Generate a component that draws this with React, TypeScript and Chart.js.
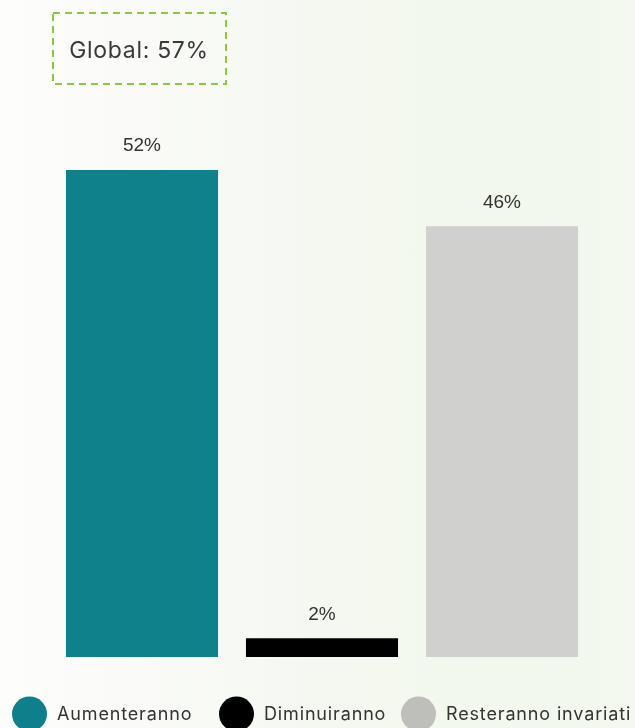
import React, { useEffect, useRef } from "react";
import { Chart, registerables } from "chart.js";

Chart.register(...registerables);

const categories = ["Aumenteranno", "Diminuiranno", "Resteranno invariati"];
const values = [52, 2, 46];
const barColors = ["#0E818B", "#000000", "#D0D0CF"];
const legendColors = ["#0E808B", "#000000", "#BEBEBA"];
const globalLabel = "Global: 57%";

const legendSlots = [12, 219, 401];

const decorPlugin = {
  id: "decor",
  afterDatasetsDraw(chart: any) {
    const ctx = chart.ctx as CanvasRenderingContext2D & { letterSpacing?: string };
    const meta = chart.getDatasetMeta(0);
    ctx.save();
    // value labels
    ctx.fillStyle = "#333333";
    ctx.font = "19px 'Liberation Sans', Arial, sans-serif";
    ctx.textAlign = "center";
    ctx.textBaseline = "alphabetic";
    meta.data.forEach((bar: any, i: number) => {
      ctx.fillText(values[i] + "%", bar.x, bar.y - 18.5);
    });

    // global dashed box
    ctx.strokeStyle = "#8DC63F";
    ctx.lineWidth = 2;
    ctx.setLineDash([7, 5]);
    ctx.strokeRect(53, 13, 173, 71);
    ctx.setLineDash([]);
    ctx.fillStyle = "#3a3a3a";
    ctx.font = "23px Inter, sans-serif";
    ctx.letterSpacing = "0.7px";
    ctx.textAlign = "left";
    ctx.textBaseline = "alphabetic";
    const gw = ctx.measureText(globalLabel).width;
    ctx.fillText(globalLabel, 139 - gw / 2, 57.5);

    // legend
    ctx.font = "18px Inter, sans-serif";
    ctx.letterSpacing = "0.85px";
    ctx.textAlign = "left";
    ctx.textBaseline = "alphabetic";
    const cy = 714;
    const r = 17.5;
    categories.forEach((label, i) => {
      const x = legendSlots[i];
      ctx.beginPath();
      ctx.fillStyle = legendColors[i];
      ctx.arc(x + r, cy, r, 0, Math.PI * 2);
      ctx.fill();
      ctx.fillStyle = "#333333";
      ctx.fillText(label, x + 2 * r + 10, 719.5);
    });
    ctx.restore();
  },
};

export default function App() {
  const ref = useRef<HTMLCanvasElement | null>(null);
  useEffect(() => {
    if (!ref.current) return;
    const chart = new Chart(ref.current, {
      type: "bar",
      data: {
        labels: categories,
        datasets: [
          {
            data: values,
            backgroundColor: barColors,
            borderWidth: 0,
            categoryPercentage: 1,
            barPercentage: 0.845,
          },
        ],
      },
      options: {
        responsive: false,
        animation: false,
        layout: { padding: { top: 95, bottom: 71, left: 52, right: 43 } },
        scales: {
          x: { display: false },
          y: { display: false, min: 0, max: 60 },
        },
        plugins: {
          legend: { display: false },
          tooltip: { enabled: false },
        },
      },
      plugins: [decorPlugin],
    });
    return () => chart.destroy();
  }, []);
  return (
    <div
      style={{
        position: "fixed",
        left: 0,
        top: 0,
        width: 635,
        height: 728,
        overflow: "hidden",
        background:
          "linear-gradient(to right, #fdfdfc 0%, #fafbf8 20%, #f5f8f1 50%, #f2f8ec 80%, #f4f8f0 100%)",
      }}
    >
      <canvas ref={ref} width={635} height={728} style={{ display: "block" }} />
    </div>
  );
}
